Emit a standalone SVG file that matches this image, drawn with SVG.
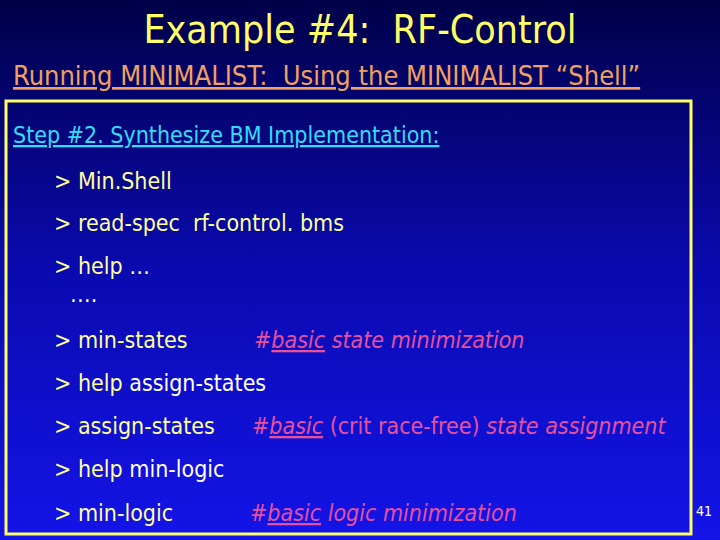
<svg xmlns="http://www.w3.org/2000/svg" width="720" height="540" viewBox="0 0 720 540">
<defs>
<linearGradient id="bg" x1="0" y1="0" x2="0" y2="1">
<stop offset="0" stop-color="#000048"/>
<stop offset="0.5" stop-color="#0a0ab0"/>
<stop offset="1" stop-color="#1414e8"/>
</linearGradient>
<style>
text{font-family:"DejaVu Sans Condensed","Liberation Sans",sans-serif;font-size:23px;white-space:pre}
.y{fill:#ffff99}.w{fill:#ffffff}.p{fill:#e8509c}.i{font-style:italic}
</style>
</defs>
<rect width="720" height="540" fill="url(#bg)"/>
<text x="360" y="43" text-anchor="middle" style="font-size:39px;fill:#ffff66">Example #4:  RF-Control</text>
<g id="subtitle"><text x="13" y="85" style="font-size:27px;fill:#f0a060;text-decoration:underline">Running MINIMALIST:  Using the MINIMALIST “Shell”</text></g>
<rect id="box" x="6" y="101" width="685" height="433" fill="none" stroke="#ffff66" stroke-width="3"/>
<g id="content">
<text x="13" y="143" style="fill:#33ddff;text-decoration:underline">Step #2. Synthesize BM Implementation:</text>
<text x="54" y="189" class="y">&gt; Min.Shell</text>
<text x="54" y="231" class="y">&gt; read-spec  rf-control. bms</text>
<text x="54" y="274" class="y">&gt; help …</text>
<text x="70" y="302" class="y">….</text>
<text x="54" y="348" class="y">&gt; min-states</text>
<text x="254" y="348" class="p i">#<tspan text-decoration="underline">basic</tspan> state minimization</text>
<text x="54" y="391" class="y">&gt; help <tspan class="w">assign-states</tspan></text>
<text x="54" y="434" class="y">&gt; assign-states</text>
<text x="252" y="434" class="p">#<tspan class="i" text-decoration="underline">basic</tspan> (crit race-free) <tspan class="i">state assignment</tspan></text>
<text x="54" y="477" class="y">&gt; help <tspan class="w">min-logic</tspan></text>
<text x="54" y="521" class="y">&gt; min-logic</text>
<text x="250" y="521" class="p i">#<tspan text-decoration="underline">basic</tspan> logic minimization</text>
</g>
<text x="696" y="516" class="w" style="font-size:14px">41</text>
</svg>
